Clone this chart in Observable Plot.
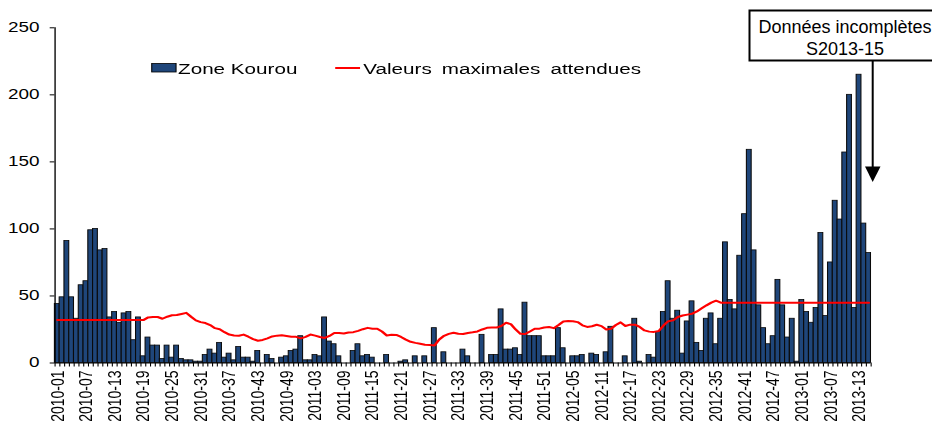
<!DOCTYPE html>
<html><head><meta charset="utf-8">
<script src="https://cdn.jsdelivr.net/npm/d3@7"></script>
<script src="https://cdn.jsdelivr.net/npm/@observablehq/plot@0.6"></script>
<style>
html,body{margin:0;padding:0;background:#fff;}
#wrap{position:relative;width:932px;height:425px;overflow:hidden;font-family:"Liberation Sans",Arial,sans-serif;}
#stretch{position:absolute;left:0;top:0;width:690px;height:425px;transform:scale(1.35,1);transform-origin:0 0;}
#stretch svg{display:block;}
.ov{position:absolute;left:0;top:0;overflow:visible;}
</style></head><body>
<div id="wrap"><div id="stretch"></div></div>
<script>
// ---- data ----
const years = [2010, 2011, 2012, 2013];
const weeksPerYear = [52, 52, 52, 15];

const cases2010 = [44,49,91,49,33,58,61,99,100,84, 85,34,38,30,37,38,17,34,5,19,
  13,13,3,13,4,13,3,2,2,1, 1,6,10,7,15,4,7,2,12,4, 4,1,9,0,6,3,0,4,5,9, 10,20];
const cases2011 = [2,2,6,5,34,16,14,5,0,0, 9,14,5,6,4,0,0,6,0,0, 1,2,0,5,0,5,0,26,0,8,
  0,0,0,10,5,0,0,21,0,6, 6,40,10,10,11,6,45,20,20,20, 5,5];
const cases2012 = [5,26,11,0,5,5,6,0,7,6, 0,8,27,0,0,5,0,33,1,0, 6,4,23,38,61,33,39,7,31,46,
  15,9,33,37,14,33,90,47,40,80, 111,159,84,43,26,14,20,62,43,19, 33,1];
const cases2013 = [47,38,30,41,97,35,75,121,107,157,200,41,215,104,82];

const max2010 = [32,32,32,32,32,32,32,32,32,32, 32,32,32,32,32,32,32,32,32,34,
  34.3,34.3,33,34.5,35.6,35.8,36.6,37.4,34.5,31.8, 30.5,29.8,28.3,26,25.2,23,21.2,20.5,20.3,21.2,
  19.6,17.8,16.6,17.2,18.4,19.8,20.4,20.7,20.2,19.6, 19.5,18.4];
const max2011 = [19.5,21.2,20.4,19.4,18.7,20.2,22.4,22.4,22,22.8, 23,24,25.2,26.2,25.6,25.6,23.5,20.5,21,20.9,
  19.4,17.4,15.8,15,14.4,13.6,13.4,13,17.5,20.3, 21.7,22.6,21.8,21.6,22.4,22.9,23.5,25,26.2,26.4,
  26.4,27.6,30,29,25,21.8,21.6,23.5,25.5,25.6, 26.5,26.8];
const max2012 = [26,28.4,31,31.3,31.2,30.5,28.1,26.9,27.4,28.5, 27.5,25,25.5,28.3,30.3,27.6,28.6,28.6,26.9,24.3,
  23.4,23.2,23.8,28,31.2,31.8,34.3,35.4,36.1,36.8, 38.5,40.8,43,45,46.5,45,45,45,45,45,
  45,45,45,45,45,45,45,45,45,45, 45,45];
const max2013 = [45,45,45,45,45,45,45,45,45,45,45,45,45,45,45];

const yTicks = [0, 50, 100, 150, 200, 250];
const labelEvery = 6;
const seriesNames = ["Zone Kourou", "Valeurs maximales attendues"];
const noteLines = ["Données incomplètes", "S2013-15"];

// ---- build table ----
const weeks = [];
years.forEach((y, k) => { for (let w = 1; w <= weeksPerYear[k]; w++) weeks.push(`${y}-${String(w).padStart(2, "0")}`); });
const cases = [...cases2010, ...cases2011, ...cases2012, ...cases2013];
const expected = [...max2010, ...max2011, ...max2012, ...max2013];
const data = weeks.map((w, i) => ({i, week: w, cases: cases[i], expected: expected[i]}));

const BAR = "#1f467a";
const W = 690;

const chart = Plot.plot({
  width: W, height: 425,
  marginLeft: 40.3, marginRight: 45.2, marginTop: 27.3, marginBottom: 62.5,
  style: {fontFamily: "'Liberation Sans', Arial, sans-serif", fontSize: "14px", color: "#000", background: "#fff", overflow: "visible"},
  x: {type: "linear", domain: [0, weeks.length], axis: null},
  y: {domain: [0, 250], axis: null},
  marks: [
    Plot.rect(data, {x1: d => d.i, x2: d => d.i + 1, y1: 0, y2: "cases", fill: BAR, stroke: "#0a0a0a", strokeWidth: 0.8}),
    Plot.lineY(data, {x: d => d.i + 0.5, y: "expected", stroke: "#ff0000", strokeWidth: 2}),
    Plot.axisY(yTicks, {tickSize: 3.5, tickPadding: 8, label: null, fontSize: 14}),
    Plot.axisX(d3.range(0, weeks.length + 1), {tickSize: 4, tickFormat: () => "", label: null, strokeWidth: 0.8}),
    Plot.axisX(d3.range(0, weeks.length, labelEvery).map(i => i + 0.5),
      {tickSize: 0, tickPadding: 7.5, tickRotate: -90, tickFormat: d => weeks[Math.floor(d)], label: null, fontSize: 14}),
    Plot.ruleX([0], {stroke: "#000"}),
    Plot.ruleY([0], {stroke: "#000"})
  ]
});
const stretch = document.getElementById("stretch");
stretch.appendChild(chart);

// legend (inside stretched chart area)
const NS = "http://www.w3.org/2000/svg";
function el(tag, attrs, parent, text) {
  const e = document.createElementNS(NS, tag);
  for (const k in attrs) e.setAttribute(k, attrs[k]);
  if (text != null) e.textContent = text;
  parent.appendChild(e);
  return e;
}
const leg = el("svg", {class: "ov", width: W, height: 425}, stretch);
leg.style.fontFamily = "'Liberation Sans', Arial, sans-serif";
el("rect", {x: 112.4, y: 63.5, width: 18, height: 8.5, fill: BAR, stroke: "#000", "stroke-width": 0.8}, leg);
el("text", {x: 131.9, y: 74.3, "font-size": 15.3}, leg, seriesNames[0]);
el("line", {x1: 248.3, x2: 266.7, y1: 68, y2: 68, stroke: "#ff0000", "stroke-width": 2}, leg);
el("text", {x: 269.1, y: 74.3, "font-size": 15.3, "word-spacing": 3.2}, leg, seriesNames[1]);

// annotation (unstretched)
const wrap = document.getElementById("wrap");
const ann = el("svg", {class: "ov", width: 932, height: 425}, wrap);
ann.style.fontFamily = "'Liberation Sans', Arial, sans-serif";
el("rect", {x: 749.5, y: 10.5, width: 200, height: 50, fill: "#fff", stroke: "#000", "stroke-width": 2}, ann);
el("text", {x: 845, y: 33, "font-size": 18, "text-anchor": "middle"}, ann, noteLines[0]);
el("text", {x: 845, y: 54.5, "font-size": 18, "text-anchor": "middle"}, ann, noteLines[1]);
el("line", {x1: 872.7, x2: 872.7, y1: 61, y2: 168, stroke: "#000", "stroke-width": 2}, ann);
el("polygon", {points: "865,166.5 880.5,166.5 872.7,182", fill: "#000"}, ann);
</script>
</body></html>
